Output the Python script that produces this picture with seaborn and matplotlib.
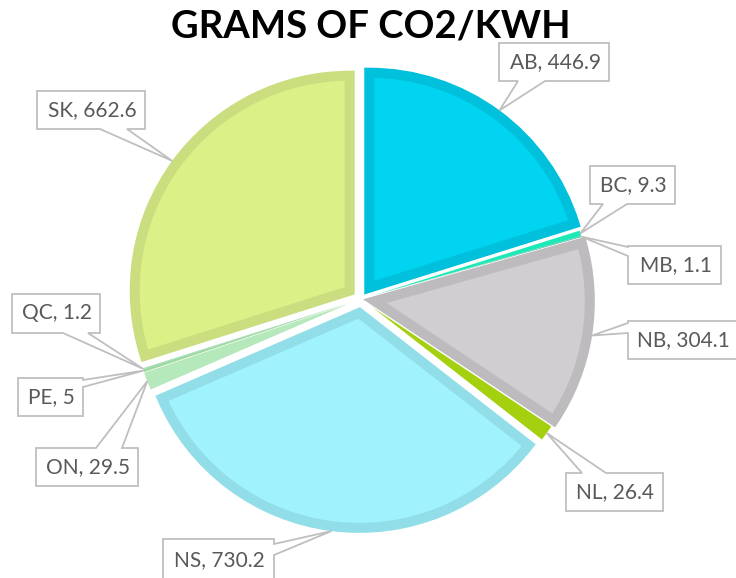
import numpy as np
import matplotlib
matplotlib.use("Agg")
import matplotlib.pyplot as plt
import seaborn as sns
from matplotlib.patches import Polygon

# data
provinces = ["AB", "BC", "MB", "NB", "NL", "NS", "ON", "PE", "QC", "SK"]
grams_co2 = [446.9, 9.3, 1.1, 304.1, 26.4, 730.2, 29.5, 5, 1.2, 662.6]
fill_colors = ["#00D4F0", "#1DE9B6", "#2FA88C", "#D0CED0", "#A5D00F",
               "#A0F2FC", "#B5E8BA", "#9ED9A0", "#7FCFA0", "#DCF088"]
edge_colors = ["#00C0DC", "#1DE9B6", "#2FA88C", "#BDBBBD", "#A5D00F",
               "#92DEE8", "#B5E8BA", "#9ED9A0", "#7FCFA0", "#CADE80"]
thick_edge = [True, False, False, True, False, True, False, False, False, True]

# label boxes in image pixels: x0, x1, y0, y1, pointer side, pointer base
label_boxes = {
    "AB": (499, 609, 43, 81, "bottom", (518, 545)),
    "BC": (590, 675, 166, 204, "bottom", (603, 627)),
    "MB": (628, 721, 246, 284, "left", (247, 256)),
    "NB": (628, 742, 321, 359, "left", (323, 333)),
    "NL": (566, 663, 473, 511, "top", (582, 606)),
    "NS": (163, 274, 539, 582, "right", (544, 555)),
    "ON": (36, 138, 448, 486, "top", (96, 122)),
    "PE": (18, 83, 378, 416, "right", (380, 387)),
    "QC": (12, 100, 294, 333, "bottom", (63, 88)),
    "SK": (37, 145, 91, 129, "bottom", (100, 127)),
}

W, H = 736, 578
cx, cy = 361, 299
radius = 215
explode_px = 14
edge_px = 10

sns.set_style("white")
plt.rcParams['font.family'] = ['Lato', 'DejaVu Sans']

fig = plt.figure(figsize=(W / 100, H / 100), dpi=100)
ax = fig.add_axes([0, 0, 1, 1])

# pie explode is in data units here (pixels)
wedges, _ = ax.pie(grams_co2, colors=fill_colors, startangle=90, counterclock=False,
                   explode=[explode_px] * len(grams_co2), radius=radius,
                   center=(cx, H - cy))
for w, ec, thick in zip(wedges, edge_colors, thick_edge):
    w.set_edgecolor(ec)
    w.set_linewidth(edge_px * 0.72 if thick else 0)
    w.set_joinstyle("miter")

ax.set_xlim(0, W)
ax.set_ylim(0, H)
ax.set_aspect("equal")
ax.axis("off")


def callout(name, value, wedge, thick):
    x0, x1, y0, y1, side, (a, b) = label_boxes[name]
    mid = np.deg2rad((wedge.theta1 + wedge.theta2) / 2)
    dist = radius + explode_px + (edge_px / 2 if thick else 0)
    tip = (cx + dist * np.cos(mid), cy - dist * np.sin(mid))
    tl, tr, br, bl = (x0, y0), (x1, y0), (x1, y1), (x0, y1)
    if side == "top":
        pts = [tl, (min(a, b), y0), tip, (max(a, b), y0), tr, br, bl]
    elif side == "right":
        pts = [tl, tr, (x1, min(a, b)), tip, (x1, max(a, b)), br, bl]
    elif side == "bottom":
        pts = [tl, tr, br, (max(a, b), y1), tip, (min(a, b), y1), bl]
    else:
        pts = [tl, tr, br, bl, (x0, max(a, b)), tip, (x0, min(a, b))]
    pts = [(px, H - py) for px, py in pts]
    ax.add_patch(Polygon(pts, closed=True, facecolor="white", edgecolor="#BFBFBF",
                         linewidth=1.3, zorder=5))
    ax.text((x0 + min(x1, W)) / 2 + 1, H - (y0 + y1) / 2, f"{name}, {value:g}",
            ha="center", va="center", fontsize=15, color="#595959", zorder=6)


for name, value, w, thick in zip(provinces, grams_co2, wedges, thick_edge):
    callout(name, value, w, thick)

ax.text(W / 2 + 3, H - 27, "GRAMS OF CO2/KWH", ha="center", va="center",
        fontsize=27.5, fontweight="bold", color="black")

fig.savefig("out.png", dpi=100)
plt.close(fig)
